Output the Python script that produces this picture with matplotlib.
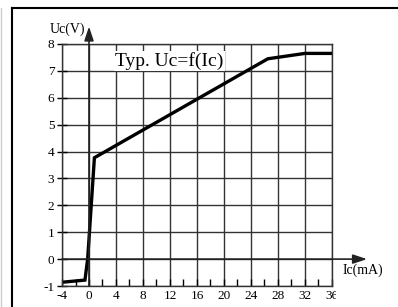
import matplotlib.pyplot as plt
from matplotlib.lines import Line2D
from matplotlib.transforms import Bbox
import numpy as np

plt.rcParams['font.family'] = 'Liberation Serif'
plt.rcParams['font.size'] = 9.5
plt.rcParams['axes.unicode_minus'] = False

# curve
ic = [-4, -0.6, -0.2, 0.8, 26.5, 32, 36]
uc = [-0.86, -0.78, 0.0, 3.77, 7.45, 7.65, 7.65]

x_ticks = [-4, 0, 4, 8, 12, 16, 20, 24, 28, 32, 36]
x_labels = ['-4', '0', '4', '8', '12', '16', '20', '24', '28', '32', '36']
y_ticks = [-1, 0, 1, 2, 3, 4, 5, 6, 7, 8]

fig = plt.figure(figsize=(3.98, 3.07), dpi=100)
ax = fig.add_axes([0.1558, 0.0684, 0.834 - 0.1558, 0.8567 - 0.0684])

ax.set_xlim(-4, 36)
ax.set_ylim(-1, 8)
ax.set_xticks(x_ticks)
ax.set_xticklabels(x_labels)
ax.set_xticks(np.arange(-4, 37, 2), minor=True)
ax.set_yticks(y_ticks)
ax.tick_params(axis='x', which='both', direction='in', length=5, pad=3, width=1)
ax.tick_params(axis='y', direction='inout', length=7, pad=2, width=1)
ax.grid(True, color='#333333', linewidth=1)
for s in ax.spines.values():
    s.set_color('#333333')
    s.set_linewidth(1)

ax.plot(ic, uc, color='black', linewidth=2.4, solid_joinstyle='miter')

# axes with arrows
ax.annotate('', xy=(0, 8.65), xytext=(0, -1), annotation_clip=False,
            arrowprops=dict(arrowstyle='-|>,head_length=0.6,head_width=0.2',
                            color='#222222', lw=1.2,
                            mutation_scale=14, shrinkA=0, shrinkB=0))
ax.annotate('', xy=(41.2, 0), xytext=(-4, 0), annotation_clip=False,
            arrowprops=dict(arrowstyle='-|>,head_length=0.6,head_width=0.2',
                            color='#222222', lw=1.2,
                            mutation_scale=14, shrinkA=0, shrinkB=0))

ax.text(-0.6, 8.55, 'Uc(V)', ha='right', va='center', fontsize=10, clip_on=False)
ax.text(40.6, -0.42, 'Ic(mA)', ha='center', va='center', fontsize=10, clip_on=False)
ax.text(3.9, 7.38, 'Typ. Uc=f(Ic)', ha='left', va='center', fontsize=14, zorder=5,
        bbox=dict(boxstyle='square,pad=0.05', fc='white', ec='none'))

# the last tick label is cut in the scan
fig.canvas.draw()
lab = ax.get_xticklabels()[-1]
lab.set_clip_box(Bbox.from_extents(0, 0, 336, 307))
lab.set_clip_on(True)

# outer frame of the scanned figure
fig.add_artist(Line2D([0.030, 1.0], [0.974, 0.974], color='black', lw=1.5))
fig.add_artist(Line2D([0.030, 0.030], [0.0, 0.974], color='black', lw=1.5))
fig.add_artist(Line2D([0.003, 0.003], [0.0, 0.974], color='#cccccc', lw=1))

fig.savefig('out.png', dpi=100)
